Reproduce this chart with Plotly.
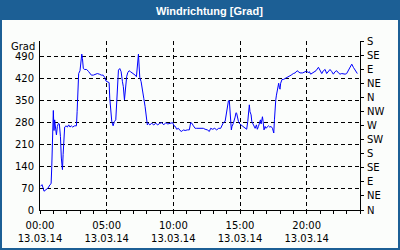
import pandas as pd
import plotly.graph_objects as go

# minutes after midnight on 13.03.14
times_min = [3, 9, 14, 18, 27, 36, 45, 50, 53, 56, 60, 63, 66, 71, 74, 78, 83, 87, 92, 96,
             101, 104, 107, 111, 117, 123, 129, 135, 141, 147, 156, 164, 167, 171, 174, 180,
             183, 188, 191, 195, 201, 210, 219, 231, 240, 249, 258, 267, 276, 284, 291, 297,
             305, 311, 314, 318, 323, 329, 335, 341, 345, 350, 353, 359, 365, 371, 375, 380,
             384, 387, 390, 395, 401, 407, 413, 420, 428, 434, 437, 440, 443, 446, 449, 455,
             461, 467, 473, 479, 483, 488, 494, 503, 512, 521, 530, 539, 548, 557, 566, 575,
             584, 593, 597, 603, 609, 615, 623, 630, 638, 645, 653, 663, 672, 678, 684, 690,
             698, 705, 717, 728, 735, 743, 753, 762, 768, 777, 786, 795, 804, 813, 819, 825,
             833, 837, 843, 848, 852, 855, 858, 861, 864, 870, 878, 882, 885, 890, 893, 899,
             905, 911, 917, 923, 930, 935, 939, 942, 945, 950, 953, 960, 968, 974, 978, 983,
             987, 992, 995, 998, 1001, 1004, 1008, 1013, 1017, 1022, 1028, 1034, 1040, 1046,
             1049, 1052, 1055, 1058, 1061, 1064, 1068, 1071, 1074, 1077, 1080, 1083, 1086,
             1089, 1095, 1103, 1112, 1121, 1130, 1140, 1148, 1157, 1163, 1170, 1182, 1193,
             1200, 1208, 1212, 1218, 1227, 1233, 1242, 1253, 1260, 1268, 1275, 1283, 1290,
             1298, 1305, 1313, 1320, 1328, 1335, 1343, 1350, 1358, 1365, 1373, 1380, 1388,
             1395, 1403, 1410, 1418, 1425, 1428]

wind_dir = [76, 81, 70, 60, 65, 70, 81, 84, 139, 246, 318, 254, 288, 256, 240, 267, 277, 275, 235, 166,
            129, 177, 235, 265, 269, 265, 272, 265, 269, 265, 269, 269, 314, 405, 436, 445,
            468, 498, 484, 452, 449, 449, 442, 431, 431, 434, 436, 434, 431, 431, 424, 412,
            410, 407, 357, 314, 283, 269, 283, 288, 330, 405, 447, 452, 442, 410, 394, 352,
            383, 405, 426, 439, 445, 442, 439, 436, 431, 426, 452, 479, 498, 460, 424, 410,
            389, 357, 330, 304, 272, 277, 272, 277, 272, 277, 272, 277, 279, 272, 279, 275,
            277, 279, 279, 269, 267, 258, 261, 254, 251, 256, 254, 256, 256, 279, 277, 269,
            261, 261, 261, 261, 261, 258, 256, 251, 261, 258, 261, 256, 261, 261, 269, 279,
            283, 304, 330, 349, 349, 320, 288, 256, 267, 277, 297, 311, 309, 293, 283, 275,
            272, 267, 265, 261, 258, 283, 325, 336, 314, 304, 283, 272, 261, 272, 258, 267,
            277, 288, 275, 283, 298, 283, 256, 267, 261, 265, 269, 265, 267, 261,
            256, 246, 288, 346, 352, 367, 383, 399, 405, 392, 386, 405, 413,
            417, 417, 420, 424, 426, 431, 436, 438, 445, 442, 438, 438, 442,
            444, 438, 442, 434, 438, 441, 445, 456, 447, 436, 445, 449, 436,
            445, 449, 442, 434, 442, 445, 438, 434, 436, 434, 434, 436, 447,
            458, 466, 456, 445, 438, 436]

left_ticks = [0, 70, 140, 210, 280, 350, 420, 490]
compass_vals = [0, 45, 90, 135, 180, 225, 270, 315, 360, 405, 450, 495, 540]
compass_text = ["N", "NE", "E", "SE", "S", "SW", "W", "NW", "N", "NE", "E", "SE", "S"]
x_tick_hours = [0, 5, 10, 15, 20]
x_tick_text = ["00:00<br>13.03.14", "05:00<br>13.03.14", "10:00<br>13.03.14",
               "15:00<br>13.03.14", "20:00<br>13.03.14"]

base = pd.Timestamp("2014-03-13 00:00")
xs = [base + pd.Timedelta(minutes=m) for m in times_min]
xtv = [base + pd.Timedelta(hours=h) for h in x_tick_hours]

BLUE = "#1c5f95"
BG = "#fbfdfb"
FONT = "DejaVu Sans"

fig = go.Figure()
fig.add_trace(go.Scatter(x=xs, y=wind_dir, mode="lines",
                         line=dict(color="#0000ff", width=1), showlegend=False,
                         hoverinfo="skip"))
# carrier trace so the compass axis on the right is drawn
fig.add_trace(go.Scatter(x=[xs[0]], y=[wind_dir[0]], yaxis="y2", mode="markers",
                         marker=dict(opacity=0), showlegend=False, hoverinfo="skip"))

W, H = 400, 250
L, R, T, B = 40, 40, 41, 40
pw, ph = W - L - R, H - T - B


def px(xp):
    return (xp - L) / pw


def py(yp):
    return (H - B - yp) / ph


fig.update_layout(
    width=W, height=H,
    margin=dict(l=L, r=R, t=T, b=B, pad=0, autoexpand=False),
    paper_bgcolor=BLUE,
    plot_bgcolor=BG,
    font=dict(family=FONT, size=10, color="black"),
    xaxis=dict(
        type="date", automargin=False,
        range=[base, base + pd.Timedelta(hours=24)],
        tickvals=xtv, ticktext=x_tick_text,
        showgrid=True, gridcolor="black", griddash="4px,3px", gridwidth=1,
        showline=True, linecolor="black", linewidth=1,
        ticks="outside", ticklen=3, tickcolor="black", ticklabelstandoff=3,
        minor=dict(dtick=3600000, ticks="outside", ticklen=3, tickcolor="black", showgrid=False),
        zeroline=False, fixedrange=True,
    ),
    yaxis=dict(
        range=[0, 540], automargin=False,
        tickvals=left_ticks,
        showgrid=True, gridcolor="black", griddash="4px,3px", gridwidth=1,
        showline=True, linecolor="black", linewidth=1,
        ticks="", ticklabelstandoff=3,
        zeroline=False, fixedrange=True,
    ),
    yaxis2=dict(
        range=[0, 540], overlaying="y", side="right", automargin=False,
        tickvals=compass_vals, ticktext=compass_text,
        showgrid=False, showline=True, linecolor="black", linewidth=1,
        ticks="outside", ticklen=3, tickcolor="black", ticklabelstandoff=1,
        zeroline=False, fixedrange=True,
    ),
    shapes=[dict(type="rect", xref="paper", yref="paper",
                 x0=px(2), x1=px(398), y0=py(248), y1=py(20),
                 fillcolor=BG, line=dict(width=0), layer="below")],
    annotations=[
        dict(text="<b>Windrichtung [Grad]</b>", xref="paper", yref="paper",
             x=px(209.5), y=py(10.5), xanchor="center", yanchor="middle",
             showarrow=False, font=dict(family="Liberation Sans", size=11, color="white")),
        dict(text="Grad", xref="paper", yref="paper",
             x=px(36.5), y=py(46), xanchor="right", yanchor="middle",
             showarrow=False, font=dict(family=FONT, size=10, color="black")),
    ],
)

fig.write_html("out.html")
